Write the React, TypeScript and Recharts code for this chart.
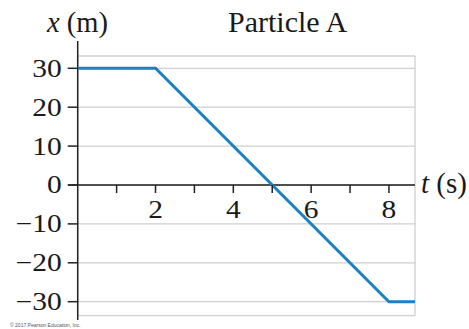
import React from 'react';
import { ComposedChart, Line, Scatter, XAxis, YAxis, CartesianGrid, ReferenceLine } from 'recharts';

const times = [0, 2, 8, 8.67];
const positions = [30, 30, -30, -30];
const yTicks = [-30, -20, -10, 0, 10, 20, 30];
const xGridTicks = [1, 2, 3, 4, 5, 6, 7, 8];
const xLabelTicks = [2, 4, 6, 8];

const data = times.map((t, i) => ({ t, x: positions[i] }));
const tickMarks = xGridTicks.map((t) => ({ t, x: 0 }));

const SERIF = '"Liberation Serif", "DejaVu Serif", serif';
const fmt = (v: number) => (v < 0 ? '\u2212' + Math.abs(v) : String(v));

const YTick = (props: any) => {
  const { x, y, payload } = props;
  return (
    <g transform={`translate(${x},${y})`}>
      <text transform="scale(1.18,1)" textAnchor="end" dy="0.34em" fontFamily={SERIF} fontSize={25} fill="#1a1a1a">
        {fmt(payload.value)}
      </text>
    </g>
  );
};

const TickShape = (props: any) => {
  const { cx, cy, payload } = props;
  return (
    <g>
      <line x1={cx} y1={cy} x2={cx} y2={cy + 8} stroke="#222" strokeWidth={1.5} />
      {xLabelTicks.includes(payload.t) && (
        <g transform={`translate(${cx},${cy + 33})`}>
          <text transform="scale(1.18,1)" textAnchor="middle" fontFamily={SERIF} fontSize={25} fill="#1a1a1a">
            {fmt(payload.t)}
          </text>
        </g>
      )}
    </g>
  );
};

export default function App() {
  return (
    <div style={{ position: 'absolute', left: 0, top: 0, width: 469, height: 329, background: '#fff' }}>
      <ComposedChart
        width={469}
        height={329}
        data={data}
        margin={{ top: 56, right: 54, bottom: 13.3, left: 0 }}
      >
        <CartesianGrid stroke="#cfcfcf" strokeWidth={1.3} />
        <XAxis
          type="number"
          dataKey="t"
          domain={[0, 8.67]}
          ticks={xGridTicks}
          allowDataOverflow
          height={0}
          axisLine={false}
          tickLine={false}
          tick={false}
        />
        <YAxis
          type="number"
          domain={[-33.6, 33.16]}
          ticks={yTicks}
          allowDataOverflow
          width={77.7}
          axisLine={false}
          tickSize={10}
          tickMargin={6}
          tickLine={{ stroke: '#222', strokeWidth: 1.5 }}
          tick={<YTick />}
        />
        <ReferenceLine
          segment={[{ x: 0, y: 37 }, { x: 0, y: -34.7 }]}
          ifOverflow="visible"
          stroke="#222"
          strokeWidth={1.5}
        />
        <ReferenceLine
          segment={[{ x: -0.25, y: 0 }, { x: 8.67, y: 0 }]}
          ifOverflow="visible"
          stroke="#222"
          strokeWidth={1.5}
        />
        <Scatter data={tickMarks} dataKey="x" shape={<TickShape />} isAnimationActive={false} />
        <Line
          type="linear"
          dataKey="x"
          stroke="#1a80c8"
          strokeWidth={3}
          dot={false}
          isAnimationActive={false}
        />
      </ComposedChart>
      <svg width={469} height={329} style={{ position: 'absolute', left: 0, top: 0, pointerEvents: 'none' }}>
        <text x={47} y={32} fontFamily={SERIF} fontSize={28.5} fill="#1a1a1a">
          <tspan fontStyle="italic">x</tspan> (m)
        </text>
        <text x={228} y={32} fontFamily={SERIF} fontSize={30} fill="#1a1a1a">Particle A</text>
        <text x={421} y={193} fontFamily={SERIF} fontSize={29} fill="#1a1a1a">
          <tspan fontStyle="italic">t</tspan> (s)
        </text>
        <text x={10} y={327} fontFamily='"Liberation Sans", sans-serif' fontSize={5} fill="#555">
          © 2017 Pearson Education, Inc.
        </text>
      </svg>
    </div>
  );
}
